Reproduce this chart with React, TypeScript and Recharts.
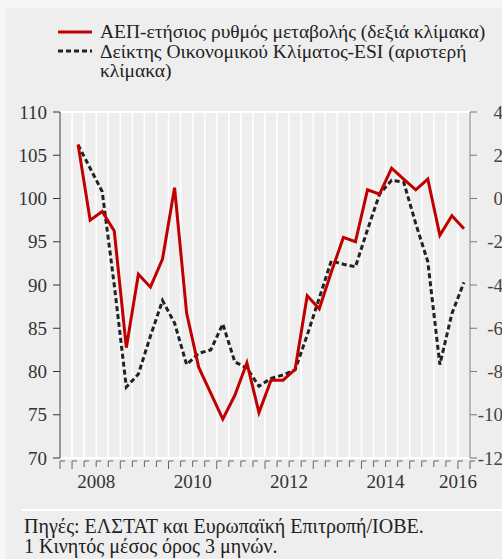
import React from 'react'
import {
  LineChart,
  Line,
  XAxis,
  YAxis,
  CartesianGrid,
  ReferenceLine,
} from 'recharts'

// quarters 2008Q1 - 2016Q1
const quarters = [
  '2008Q1', '2008Q2', '2008Q3', '2008Q4',
  '2009Q1', '2009Q2', '2009Q3', '2009Q4',
  '2010Q1', '2010Q2', '2010Q3', '2010Q4',
  '2011Q1', '2011Q2', '2011Q3', '2011Q4',
  '2012Q1', '2012Q2', '2012Q3', '2012Q4',
  '2013Q1', '2013Q2', '2013Q3', '2013Q4',
  '2014Q1', '2014Q2', '2014Q3', '2014Q4',
  '2015Q1', '2015Q2', '2015Q3', '2015Q4',
  '2016Q1',
]

// ΑΕΠ, ετήσια μεταβολή % (δεξιά κλίμακα)
const gdpGrowth = [
  2.5, -1.0, -0.6, -1.5, -6.9, -3.5, -4.1, -2.8, 0.5, -5.3, -7.8, -9.0,
  -10.2, -9.1, -7.6, -9.9, -8.4, -8.4, -7.9, -4.5, -5.1, -3.4, -1.8, -2.0,
  0.4, 0.2, 1.4, 0.9, 0.4, 0.9, -1.7, -0.8, -1.4,
]

// ESI (αριστερή κλίμακα)
const esi = [
  106.2, 103.5, 100.8, 90.0, 78.2, 79.7, 84.1, 88.2, 85.6, 80.8, 82.1, 82.5,
  85.5, 81.1, 80.4, 78.3, 79.2, 79.6, 80.2, 84.2, 88.5, 92.8, 92.4, 92.1,
  96.4, 100.5, 102.1, 101.9, 97.1, 92.7, 80.8, 86.7, 90.3,
]

const leftTicks = [70, 75, 80, 85, 90, 95, 100, 105, 110]
const rightTicks = [-12, -10, -8, -6, -4, -2, 0, 2, 4]

// x axis runs in quarter slots, slot 0 = 2007Q4 (empty), slot 1 = 2008Q1
const yearLabels = ['2008', '2010', '2012', '2014', '2016']
const yearLabelSlots = [3, 11, 19, 27, 33]
const slotTicks = Array.from({ length: 35 }, (_, i) => i)

const data = quarters.map((q, i) => ({
  q,
  pos: i + 1.5,
  gdp: gdpGrowth[i],
  esi: esi[i],
}))

const FONT = "'Liberation Serif', 'Times New Roman', serif"

function XTick(props: any) {
  const { x, y, payload } = props
  const v = payload.value
  const isYear = v === 0 || v === 34 || (v - 1) % 4 === 0
  const li = yearLabelSlots.indexOf(v)
  return (
    <g>
      <line x1={x} y1={y + 3} x2={x + 5} y2={y + 3} stroke="#666" strokeWidth={1} />
      <line x1={x} y1={y + 3} x2={x} y2={y + (isYear ? 11 : 9)} stroke="#666" strokeWidth={1} />
      {li >= 0 && (
        <text x={x} y={y + 30} textAnchor="middle" fontSize={19} fontFamily={FONT} fill="#333">
          {yearLabels[li]}
        </text>
      )}
    </g>
  )
}

function RightTick(props: any) {
  const { x, y, payload } = props
  return (
    <text x={x + 26} y={y} dy="0.355em" textAnchor="end" fontSize={19} fontFamily={FONT} fill="#444">
      {payload.value}
    </text>
  )
}

export default function App() {
  return (
    <div
      style={{
        position: 'absolute',
        left: 0,
        top: 0,
        width: 502,
        height: 559,
        background: '#f6f6f6',
        overflow: 'hidden',
        fontFamily: FONT,
      }}
    >
      <div
        style={{
          position: 'absolute',
          left: 6,
          top: 8,
          right: 0,
          bottom: 0,
          background: '#eeeeee',
        }}
      />

      {/* legend */}
      <div style={{ position: 'absolute', left: 58, top: 22, fontSize: 19.5, lineHeight: '19.5px', color: '#222' }}>
        <svg width={36} height={40} style={{ position: 'absolute', left: 0, top: 0 }}>
          <line x1={0} y1={10} x2={34} y2={10} stroke="#bf0000" strokeWidth={3} />
          <line x1={0} y1={29} x2={34} y2={29} stroke="#222" strokeWidth={3} strokeDasharray="5 3" />
        </svg>
        <div style={{ marginLeft: 42, whiteSpace: 'nowrap' }}>
          ΑΕΠ-ετήσιος ρυθμός μεταβολής (δεξιά κλίμακα)
          <br />
          Δείκτης Οικονομικού Κλίματος-ESI (αριστερή
          <br />
          κλίμακα)
        </div>
      </div>

      <div style={{ position: 'absolute', left: 0, top: 0 }}>
        <LineChart
          width={502}
          height={500}
          data={data}
          margin={{ top: 112, right: 0, bottom: 12, left: 0 }}
        >
          <CartesianGrid horizontal={false} stroke="#ffffff" strokeWidth={1.6} />
          <XAxis
            dataKey="pos"
            type="number"
            domain={[0, 34]}
            ticks={slotTicks}
            interval={0}
            axisLine={false}
            tickLine={false}
            tickSize={0}
            tickMargin={0}
            height={30}
            tick={<XTick />}
          />
          <YAxis
            yAxisId="left"
            domain={[70, 110]}
            ticks={leftTicks}
            interval={0}
            width={60}
            axisLine={{ stroke: '#333', strokeWidth: 1 }}
            tickLine={{ stroke: '#333' }}
            tickSize={7}
            tickMargin={6}
            tick={{ fontSize: 19, fontFamily: FONT, fill: '#333' }}
          />
          <YAxis
            yAxisId="right"
            orientation="right"
            domain={[-12, 4]}
            ticks={rightTicks}
            interval={0}
            width={32}
            axisLine={{ stroke: '#777', strokeWidth: 1 }}
            tickLine={{ stroke: '#777' }}
            tickSize={7}
            tickMargin={0}
            tick={<RightTick />}
          />
          <ReferenceLine yAxisId="left" y={110} stroke="#ffffff" strokeWidth={2} />
          <ReferenceLine yAxisId="left" y={70} stroke="#ffffff" strokeWidth={2} />
          <Line
            yAxisId="left"
            dataKey="esi"
            stroke="#222"
            strokeWidth={3}
            strokeDasharray="5 3"
            dot={false}
            type="linear"
            isAnimationActive={false}
          />
          <Line
            yAxisId="right"
            dataKey="gdp"
            stroke="#bf0000"
            strokeWidth={3}
            dot={false}
            type="linear"
            isAnimationActive={false}
          />
        </LineChart>
      </div>

      {/* separator + sources */}
      <div style={{ position: 'absolute', left: 22, right: 0, top: 509, height: 2, background: '#ffffff' }} />
      <div style={{ position: 'absolute', left: 24, top: 516, fontSize: 20, lineHeight: '20px', color: '#222', whiteSpace: 'nowrap' }}>
        Πηγές: ΕΛΣΤΑΤ και Ευρωπαϊκή Επιτροπή/ΙΟΒΕ.
        <br />
        1 Κινητός μέσος όρος 3 μηνών.
      </div>
    </div>
  )
}
